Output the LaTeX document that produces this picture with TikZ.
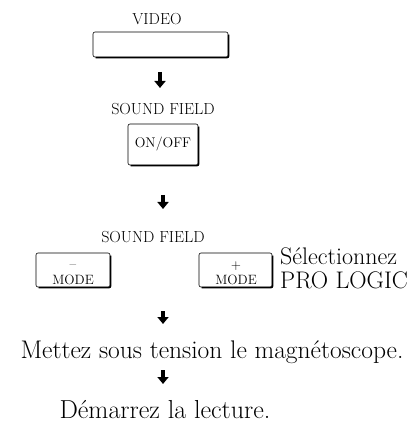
\documentclass[tikz,border=0pt]{standalone}
\usepackage{tikz}
\usetikzlibrary{arrows.meta}

% thick right and bottom edge of a button
\newcommand\btnedge[1]{%
  \draw[line width=1.5pt, rounded corners=2pt]
    ([xshift=0.4pt,yshift=-3pt]#1.north east) -- ([xshift=0.4pt,yshift=-0.4pt]#1.south east)
    -- ([xshift=3pt,yshift=-0.4pt]#1.south west);}

\begin{document}
\begin{tikzpicture}[x=1pt, y=-1pt,
    every node/.style={inner sep=0pt},
    caption/.style={font=\fontsize{16}{18}\selectfont, anchor=base},
    small/.style={font=\fontsize{13.5}{15}\selectfont, anchor=base},
    big/.style={font=\fontsize{25.5}{30}\selectfont, anchor=base},
    button/.style={draw, line width=0.6pt, rounded corners=2pt},
    downarrow/.style={line width=4pt, -{Triangle[width=11pt,length=7pt]}}]
    \useasboundingbox (0,0) rectangle (417,427);

    % buttons
    \node[caption] (video) at (157,25) {VIDEO};
    \node[button, minimum width=135pt, minimum height=25pt] (videobtn) at (160.5,44.5) {};
    \node[caption] (field1) at (163,115) {SOUND FIELD};
    \node[button, minimum width=70pt, minimum height=41pt, font=\fontsize{14}{16}\selectfont] (onoff) at (163,144.5) {ON/OFF};
    \node[caption] (field2) at (153,242) {SOUND FIELD};
    \node[button, minimum width=74pt, minimum height=34pt] (minus) at (73,270) {};
    \node[button, minimum width=73pt, minimum height=34pt] (plus) at (235.5,270) {};
    \node[small] (minussign) at (73,268) {\textendash};
    \node[small] (minusmode) at (73,284) {MODE};
    \node[small] (plussign) at (236,269) {+};
    \node[small] (plusmode) at (236,284) {MODE};
    \btnedge{videobtn}
    \btnedge{onoff}
    \btnedge{minus}
    \btnedge{plus}

    % texts
    \node[big, anchor=base west, font=\fontsize{24}{28}\selectfont] (select) at (280,264) {Sélectionnez};
    \node[big, anchor=base west, font=\fontsize{24}{28}\selectfont] (prologic) at (280,288) {PRO LOGIC};
    \node[big] (power) at (212,358) {Mettez sous tension le magnétoscope.};
    \node[big, font=\fontsize{26}{30}\selectfont] (play) at (165,418) {Démarrez la lecture.};

    % arrows
    \coordinate (a1) at (160,72);  \coordinate (b1) at (160,88);
    \coordinate (a2) at (163,195); \coordinate (b2) at (163,209);
    \coordinate (a3) at (163,311); \coordinate (b3) at (163,324);
    \coordinate (a4) at (163,370); \coordinate (b4) at (163,384);
    \draw[downarrow] (a1) -- (b1);
    \draw[downarrow] (a2) -- (b2);
    \draw[downarrow] (a3) -- (b3);
    \draw[downarrow] (a4) -- (b4);
\end{tikzpicture}
\end{document}
